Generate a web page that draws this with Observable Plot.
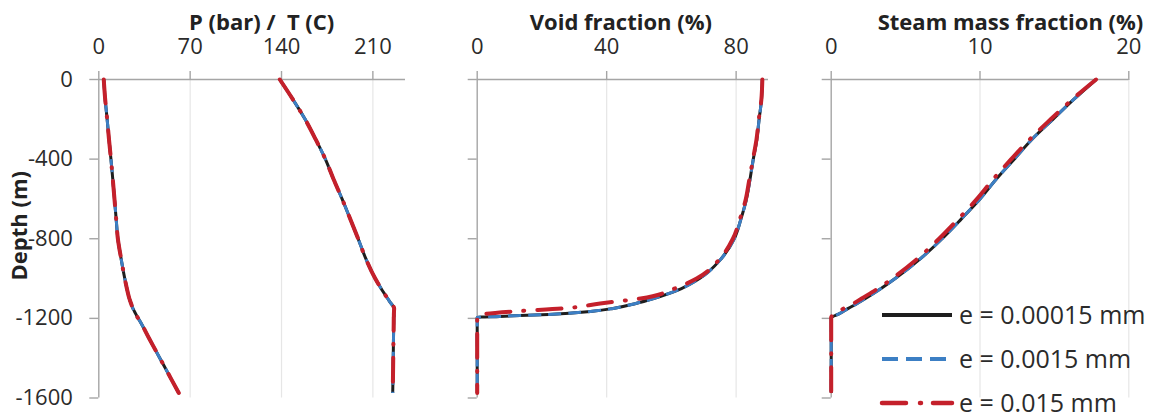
<!DOCTYPE html>
<html><head><meta charset="utf-8">
<script src="https://cdn.jsdelivr.net/npm/d3@7"></script>
<script src="https://cdn.jsdelivr.net/npm/@observablehq/plot@0.6"></script>
<style>
html,body{margin:0;padding:0;background:#fff;}
#wrap{position:relative;width:1155px;height:419px;overflow:hidden;}
#wrap svg{position:absolute;top:0;max-width:none;overflow:visible;}
</style></head><body><div id="wrap"></div>
<script>
// ---- data ----
const series = ["e = 0.00015 mm", "e = 0.0015 mm", "e = 0.015 mm"];
const depth = [0,-100,-200,-300,-400,-500,-600,-700,-800,-900,-1000,-1050,-1100,-1125,-1150,-1165,-1180,-1190,-1195,-1200,-1300,-1400,-1500,-1575];

const pBlack = [3.8,4.9,6.4,7.8,9.3,10.7,12.0,13.3,14.6,17.1,19.9,21.5,23.4,24.7,26.1,27.3,28.5,29.3,29.7,30.2,38.5,46.8,55.1,61.3];
const pBlue  = [3.8,4.9,6.4,7.8,9.3,10.7,12.0,13.3,14.6,17.1,19.9,21.5,23.4,24.7,26.1,27.3,28.5,29.3,29.7,30.2,38.5,46.8,55.1,61.3];
const pRed   = [3.8,4.9,6.4,7.8,9.3,10.7,12.0,13.3,14.6,17.1,19.9,21.5,23.4,24.7,26.1,27.3,28.5,29.3,29.7,30.2,38.5,46.8,55.1,61.3];

const tBlack = [138.7,148.7,158.1,166.1,173.6,179.8,186.4,192.6,198.7,204.6,211.8,216.3,221.3,223.9,226.3,226.2,226.1,226.1,226.0,226.0,225.8,225.6,225.4,225.2];
const tBlue  = [138.7,148.7,158.1,166.1,173.6,179.8,186.4,192.6,198.7,204.6,211.8,216.3,221.3,223.9,226.3,226.2,226.1,226.1,226.0,226.0,225.8,225.6,225.4,225.2];
const tRed   = [138.7,148.7,158.1,166.1,173.6,179.8,186.4,192.6,198.7,204.6,211.8,216.3,221.3,223.9,226.3,226.2,226.1,226.1,226.0,226.0,225.8,225.6,225.4,225.2];

const vfBlack = [88.1,87.85,87.1,86.4,85.3,84.3,83.2,81.5,79.4,75.4,68.7,63.1,54.5,49.0,42.0,35.0,22.0,7.0,0,0,0,0,0,0];
const vfBlue  = [88.1,87.85,87.1,86.4,85.3,84.3,83.2,81.5,79.4,75.4,68.7,63.1,54.5,49.0,42.0,35.0,22.0,7.0,0,0,0,0,0,0];
const vfRed   = [88.1,87.8,87.0,86.3,85.2,84.1,83.0,81.2,79.0,75.0,67.8,61.0,50.5,38.0,26.5,11.5,1.5,0.1,0,0,0,0,0,0];

const smfBlack = [17.8,16.3,14.9,13.5,12.3,11.1,10.0,8.75,7.45,6.0,4.3,3.35,2.3,1.75,1.15,0.8,0.45,0.12,0,0,0,0,0,0];
const smfBlue  = [17.8,16.3,14.9,13.5,12.3,11.1,10.0,8.75,7.45,6.0,4.3,3.35,2.3,1.75,1.15,0.8,0.45,0.12,0,0,0,0,0,0];
const smfRed   = [17.8,16.2,14.75,13.35,12.1,10.9,9.8,8.55,7.25,5.8,4.1,3.15,2.05,1.5,0.85,0.5,0.18,0.03,0,0,0,0,0,0];

const yTicks = [0,-400,-800,-1200,-1600];
const xTicks1 = [0,70,140,210];
const xTicks2 = [0,40,80];
const xTicks3 = [0,10,20];
const titles = ["P (bar) /\u00a0 T (C)", "Void fraction (%)", "Steam mass fraction (%)"];

// ---- styles ----
const AX = "#a5a5a5", GRID = "#e6e6e6", TXT = "#2b2b2b";
const sty = [
  {stroke: "#1e1e1e", strokeWidth: 3, strokeDasharray: null, strokeLinecap: "butt"},
  {stroke: "#3c7fc4", strokeWidth: 3, strokeDasharray: "13,7", strokeLinecap: "butt"},
  {stroke: "#c4202b", strokeWidth: 4, strokeDasharray: "24,13,1,13", strokeLinecap: "round"}
];
const FONT = "Open Sans";

function rows(vals, k, key) {
  return depth.map((d, i) => ({d, v: vals[i], s: series[k], z: key + k}));
}

function lineMarks(groups) {
  return groups.map((g, k) => Plot.line(g, {x: "v", y: "d", z: "z", curve: "monotone-y", ...sty[k]}));
}

function panel({left, width, mL, mR, domain, ticks, title, titleDx, yLabels, groups}) {
  const p = Plot.plot({
    width, height: 419,
    marginTop: 79, marginBottom: 21.5, marginLeft: mL, marginRight: mR,
    x: {domain},
    y: {domain: [-1600, 0]},
    style: {fontFamily: FONT, fontSize: "22px", background: "transparent", color: TXT},
    marks: [
      Plot.gridX(ticks.filter(t => t !== 0), {stroke: GRID, strokeOpacity: 1, strokeWidth: 1.2}),
      Plot.ruleX([0], {stroke: AX, strokeWidth: 1.4}),
      Plot.ruleY([0], {stroke: AX, strokeWidth: 1.4}),
      Plot.axisX({anchor: "top", ticks, tickSize: 9, tickPadding: 17, stroke: AX, strokeWidth: 1.4, fill: TXT, fontSize: 22, label: null, tickFormat: d => String(d)}),
      Plot.axisY({anchor: "left", ticks: yTicks, tickSize: 9, tickPadding: 17, stroke: AX, strokeWidth: 1.4, fill: TXT, fontSize: 22, label: null, tickFormat: yLabels ? (d => String(d)) : (() => "")}),
      ...lineMarks(groups),
      Plot.text([title], {frameAnchor: "top", dy: -50, dx: titleDx, lineAnchor: "bottom", fontWeight: "bold", fontSize: 22, fill: "#222"}),
      ...(yLabels ? [Plot.text(["Depth (m)"], {frameAnchor: "left", dx: -79, dy: -13, rotate: -90, textAnchor: "middle", lineAnchor: "middle", fontWeight: "bold", fontSize: 22, fill: "#222"})] : [])
    ]
  });
  p.style.left = left + "px";
  document.getElementById("wrap").appendChild(p);
}

panel({
  left: 0, width: 420, mL: 98.3, mR: 15, domain: [0, 235], ticks: xTicks1,
  title: titles[0], titleDx: 9.5, yLabels: true,
  groups: [
    [...rows(pBlack, 0, "p"), ...rows(tBlack, 0, "t")],
    [...rows(pBlue, 1, "p"), ...rows(tBlue, 1, "t")],
    [...rows(pRed, 2, "p"), ...rows(tRed, 2, "t")]
  ]
});
panel({
  left: 420, width: 380, mL: 56.7, mR: 32, domain: [0, 90], ticks: xTicks2,
  title: titles[1], titleDx: -2, yLabels: false,
  groups: [rows(vfBlack, 0, "v"), rows(vfBlue, 1, "v"), rows(vfRed, 2, "v")]
});
panel({
  left: 800, width: 355, mL: 30.7, mR: 26.7, domain: [0, 20], ticks: xTicks3,
  title: titles[2], titleDx: 30.5, yLabels: false,
  groups: [rows(smfBlack, 0, "s"), rows(smfBlue, 1, "s"), rows(smfRed, 2, "s")]
});

// ---- legend ----
const leg = d3.select("#wrap").append("svg")
  .attr("width", 1155).attr("height", 419)
  .style("left", "0px").style("pointer-events", "none");
const legY = [315, 359, 403];
series.forEach((name, k) => {
  const g = leg.append("g");
  g.append("line").attr("x1", 882).attr("x2", 952).attr("y1", legY[k]).attr("y2", legY[k])
    .attr("stroke", sty[k].stroke).attr("stroke-width", k === 2 ? 4.5 : 4)
    .attr("stroke-dasharray", k === 0 ? null : (k === 1 ? "16,8" : "24,14,1,12"))
    .attr("stroke-linecap", sty[k].strokeLinecap);
  g.append("text").attr("x", 959).attr("y", legY[k] + 9)
    .attr("font-family", FONT).attr("font-size", 25).attr("fill", TXT).text(name);
});
</script></body></html>
